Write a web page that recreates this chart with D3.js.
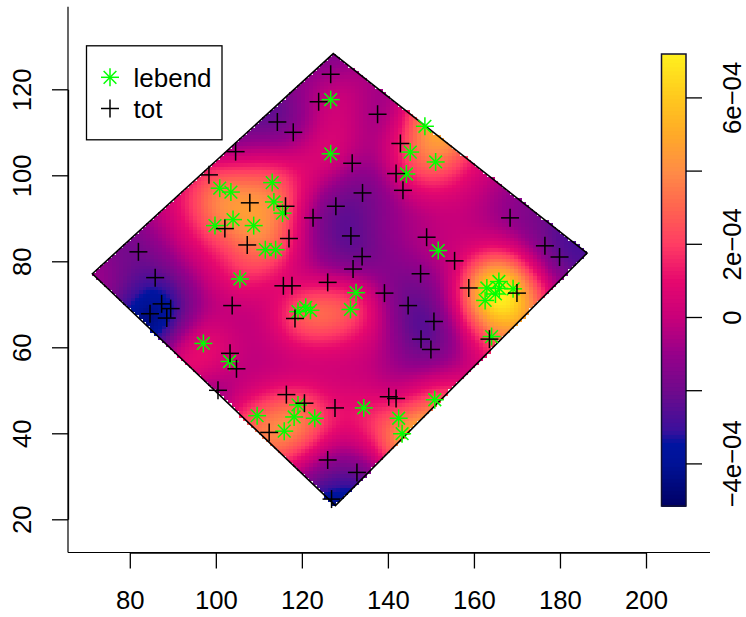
<!DOCTYPE html>
<html><head><meta charset="utf-8">
<script src="https://cdn.jsdelivr.net/npm/d3@7"></script>
<style>html,body{margin:0;padding:0;background:#fff}svg{display:block}text{font-family:"Liberation Sans",Arial,sans-serif;fill:#000}</style>
</head><body><svg id="c" width="746" height="617"></svg>
<script>
// Point positions
const lebendX=[126.7,126.7,113.1,100.9,103.5,113.5,115.5,104,99.8,108.8,111.5,113.9,105.6,148.6,145.2,151.1,144.3,151.7,119.1,120.9,122,97.1,103.2,119.1,109.6,118.2,123,115.9,132.6,131.3,165.8,163,165,162.6,169.1,165.9,164.1,134.4,142.5,143.3,150.9];
const lebendY=[117.6,105,98.3,97,96.1,93.8,91.2,89.7,88.3,88.3,82.7,82.7,75.9,111.4,105.4,103.1,100.3,82.5,68.3,69.3,68.6,60.9,56.7,46.6,44.1,43.8,43.5,40.5,72.7,68.8,75.3,73.8,72.4,70.9,73.6,73.7,62.5,45.9,43.5,39.9,47.8];
const totX=[126.7,123.9,114.3,118,104.6,98.4,107.9,116.2,122.6,127.9,102.1,107.3,117,82,85.9,115.7,117.7,126,87.4,89.5,84.7,88.6,103.8,118.4,103.3,104.8,100.5,116.4,120.6,127.7,112.4,126,126.9,137.6,142.9,131.7,141.9,143.5,134.1,131.4,134,131.9,149,168.4,176.5,179.9,155.5,147.6,158.8,139.2,144.7,150.7,147.7,150,170,163.6,140.2,141.9,132.8];
const totY=[123.5,117.1,112.4,110,105.5,100.1,93.6,92.8,90.1,92.8,87.6,83.8,85.3,82.2,76.2,74.3,74.3,75.1,70.1,69,67.8,66.8,69.7,66.7,58.6,55,50,49,47,45.9,40.2,33.8,24.7,114.2,107.4,102.8,100.4,96.5,95.9,85.9,81.1,78.2,85.6,90.1,83.6,81,80.1,77.1,73.8,72.6,69.7,66,61.9,59.5,72.6,61.9,48.5,48.1,30.9];
// Observation window corners
const windowX=[71.3,127.3,186.3,127.8];
const windowY=[77.1,128.3,81.9,23.2];
// Ticks and labels
const xTicks=[80,100,120,140,160,180,200];
const yTicks=[20,40,60,80,100,120];
const barTicks=[-4e-4,-2e-4,0,2e-4,4e-4,6e-4];
const barLabels=["\u22124e\u221204","","0","2e\u221204","","6e\u221204"];
const legendNames=["lebend","tot"];
// Colour ramp
const rampValues=[-5.17e-4,-4.0e-4,-3.45e-4,-3.1e-4,-2e-4,-1e-4,0,1e-4,2e-4,3e-4,4e-4,5e-4,6e-4,7.17e-4];
const rampColours=["#000064","#001296","#0014A0","#3A109C","#700A8C","#96008A","#C8007A","#E6086E","#FF3C64","#FF6450","#FF8C46","#FFAA28","#FFC81E","#FFF01E"];
const kernelSigma=6;
const lebendWeight=0.031;
const totWeight=0.0175;
const gridSize=128;

const svg=d3.select("#c");
const x=d3.scaleLinear().domain([80,200]).range([129.8,646]);
const y=d3.scaleLinear().domain([20,120]).range([519.3,89.3]);
const colour=d3.scaleLinear().domain(rampValues).range(rampColours).clamp(true);

const poly=windowX.map((v,i)=>[v,windowY[i]]);
const gx0=d3.min(windowX),gx1=d3.max(windowX),gy0=d3.min(windowY),gy1=d3.max(windowY);
const dx=(gx1-gx0)/gridSize,dy=(gy1-gy0)/gridSize;
const cells=[];
for(let j=0;j<gridSize;j++)for(let i=0;i<gridSize;i++){
  const cx=gx0+(i+.5)*dx,cy=gy0+(j+.5)*dy;
  if(d3.polygonContains(poly,[cx,cy]))cells.push({i,j,cx,cy});
}
// Difference of the two kernel surfaces, with edge correction
const s2=2*kernelSigma*kernelSigma,norm=1/(Math.PI*s2);
const r=kernelSigma*3.5;
cells.forEach(c=>{
  let mass=0;
  cells.forEach(o=>{
    const ex=o.cx-c.cx; if(ex>r||ex<-r)return;
    const ey=o.cy-c.cy; if(ey>r||ey<-r)return;
    mass+=Math.exp(-(ex*ex+ey*ey)/s2);
  });
  mass*=norm*dx*dy;
  const sum=(X,Y,w)=>{let t=0;X.forEach((px,k)=>{const a=px-c.cx,b=Y[k]-c.cy;t+=Math.exp(-(a*a+b*b)/s2)});return t*norm*w};
  c.v=(sum(lebendX,lebendY,lebendWeight)-sum(totX,totY,totWeight))/mass;
});

svg.append("g").selectAll("rect").data(cells).join("rect")
 .attr("x",d=>x(gx0+d.i*dx)).attr("y",d=>y(gy0+(d.j+1)*dy))
 .attr("width",d=>x(gx0+(d.i+1)*dx)-x(gx0+d.i*dx)+.3)
 .attr("height",d=>y(gy0+d.j*dy)-y(gy0+(d.j+1)*dy)+.3)
 .attr("fill",d=>colour(d.v)).attr("shape-rendering","crispEdges");
svg.append("path").attr("d",d3.line().x(d=>x(d[0])).y(d=>y(d[1])).curve(d3.curveLinearClosed)(poly))
 .attr("fill","none").attr("stroke","#000").attr("stroke-width",1.6);

// Marks
function star(g,cx,cy,R,col){
  for(let a=0;a<4;a++){const t=a*Math.PI/4;
    g.append("line").attr("x1",cx-R*Math.cos(t)).attr("y1",cy-R*Math.sin(t)).attr("x2",cx+R*Math.cos(t)).attr("y2",cy+R*Math.sin(t)).attr("stroke",col).attr("stroke-width",1.5);}
}
function plus(g,cx,cy,R,col){
  g.append("line").attr("x1",cx-R).attr("y1",cy).attr("x2",cx+R).attr("y2",cy).attr("stroke",col).attr("stroke-width",1.5);
  g.append("line").attr("x1",cx).attr("y1",cy-R).attr("x2",cx).attr("y2",cy+R).attr("stroke",col).attr("stroke-width",1.5);
}
const gm=svg.append("g");
lebendX.forEach((v,i)=>star(gm,x(v),y(lebendY[i]),9,"#00FF00"));
totX.forEach((v,i)=>plus(gm,x(v),y(totY[i]),9,"#000"));

// Axes
const fs=25.7;
const gxA=svg.append("g").attr("transform","translate(0,552.5)");
gxA.append("path").attr("d","M68,0H710").attr("stroke","#000").attr("stroke-width",1.2).attr("fill","none");
gxA.append("g").call(d3.axisBottom(x).tickValues(xTicks).tickSize(16).tickSizeOuter(0).tickPadding(15).tickFormat(d3.format("d")))
 .call(g=>{g.selectAll("line").attr("stroke","#000").attr("stroke-width",1.3);g.select(".domain").attr("stroke","#000").attr("stroke-width",1.3);g.selectAll("text").attr("font-size",fs).attr("font-family",'"Liberation Sans"')});
gxA.selectAll(".tick text").attr("dy",null).attr("y",56);

const gyA=svg.append("g").attr("transform","translate(68,0)");
gyA.append("path").attr("d","M0,6.7V552.5").attr("stroke","#000").attr("stroke-width",1.2).attr("fill","none");
gyA.append("g").call(d3.axisLeft(y).tickValues(yTicks).tickSize(16).tickSizeOuter(0).tickFormat(d3.format("d")))
 .call(g=>{g.selectAll("line").attr("stroke","#000").attr("stroke-width",1.3);g.select(".domain").attr("stroke","#000").attr("stroke-width",1.3);
  g.selectAll("text").attr("font-size",fs).attr("font-family",'"Liberation Sans"').attr("text-anchor","middle").attr("x",null).attr("dy",null)
   .attr("transform","translate(-37.5,0) rotate(-90)").attr("y",0)});

// Colour bar
const barTop=54,barBottom=506,barL=661.5,barR=686;
const bar=d3.scaleLinear().domain([0,2e-4]).range([317,243.8]);
const barSteps=d3.range(113).map(i=>rampValues[0]+(i+.5)*(rampValues[rampValues.length-1]-rampValues[0])/113);
svg.append("g").selectAll("rect").data(barSteps).join("rect")
 .attr("x",barL).attr("width",barR-barL)
 .attr("y",d=>bar(d)-2.5).attr("height",5.2).attr("fill",d=>colour(d));
svg.append("rect").attr("x",barL).attr("y",barTop).attr("width",barR-barL).attr("height",barBottom-barTop)
 .attr("fill","none").attr("stroke","#101030").attr("stroke-width",1.5);
const gb=svg.append("g").attr("transform",`translate(${barR},0)`);
gb.call(d3.axisRight(bar).tickValues(barTicks).tickSize(16).tickSizeOuter(0).tickFormat((d,i)=>barLabels[i]))
 .call(g=>{g.select(".domain").remove();g.selectAll("line").attr("stroke","#000").attr("stroke-width",1.3);
  g.selectAll("text").attr("font-size",fs).attr("font-family",'"Liberation Sans"').attr("text-anchor","middle").attr("x",null).attr("dy",null).attr("y",0)
   .attr("transform","translate(54.7,0) rotate(-90)")});

// Legend
const lg=svg.append("g");
lg.append("rect").attr("x",86.5).attr("y",45.8).attr("width",135.5).attr("height",94).attr("fill","#fff").attr("stroke","#000").attr("stroke-width",1.3);
star(lg,110,77.3,9,"#00FF00");
plus(lg,110,108.5,9,"#000");
legendNames.forEach((n,i)=>lg.append("text").attr("x",133.5).attr("y",87+i*31).attr("font-size",26).text(n));
</script></body></html>
